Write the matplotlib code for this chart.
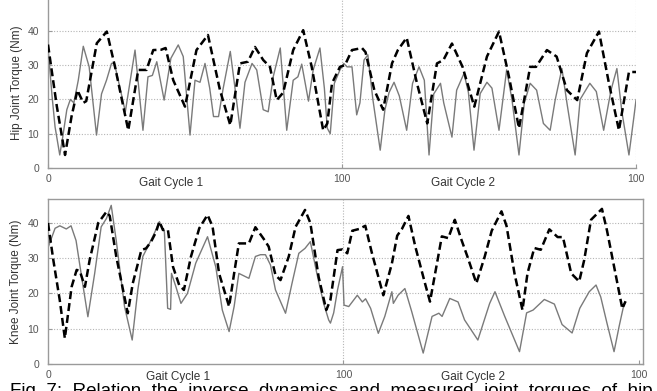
import matplotlib
matplotlib.use("Agg")
import matplotlib.pyplot as plt
from matplotlib.transforms import blended_transform_factory

# ---------------- data ----------------
hip_model_x = [0, 3, 5.8, 8, 10, 12, 13, 16.6, 20, 22.8, 27.3, 30.7, 33.5, 35.8, 38.5, 40, 42.6, 46.6,
               50.5, 54.4, 58.5, 62, 65.3, 68, 70.4, 73.2, 75.5, 77.8, 80, 83.4, 86.8, 89.7, 93.6, 95,
               96.6, 99.3, 101, 103.4, 106.8, 108, 111, 114, 117, 119, 122, 125.5, 129, 132.3, 134.5,
               137.4, 141, 145, 149.3, 153.4, 156.8, 160.2, 164, 166, 169.7, 173, 176.5, 180, 183.3,
               187.4, 190.8, 194.2, 197.6, 200]
hip_model_y = [36, 18, 3.8, 15, 22.7, 19, 19.5, 36.4, 39.8, 29.5, 11, 28.6, 28.6, 34.4, 34.5, 35, 25.6, 17.9,
               34.4, 38.8, 22.7, 12.5, 30.5, 31, 35.3, 31.5, 29.5, 19.8, 22, 34.4, 40.2, 29.5, 11, 13,
               24.7, 29.5, 30, 34.4, 35, 33.8, 22.7, 17, 30.5, 34.4, 38, 24.7, 13, 30.5, 31.5,
               36.3, 29.5, 17.9, 32.5, 39.8, 26.6, 11.6, 29.5, 29.5, 34.4, 32.5, 22.7, 19.8, 33.5,
               39.8, 24.7, 11, 28, 28]

hip_meas_x = [0, 1.4, 2.4, 4, 5, 6.4, 7.6, 8.8, 10.3, 12, 14, 16.5, 18.2, 19.9, 21.6, 22.6, 24.5, 26.3,
              29.6, 32.3, 34, 35.5, 37, 39.5, 41.8, 44.3, 46, 48.3, 50, 51.7, 53.4, 55, 56.3, 58, 59.6,
              62, 63.8, 65.3, 67, 69.4, 71, 73.2, 74.9, 76.6, 79, 81.2, 83.4, 85, 86.3, 88.6, 90.2,
              92.5, 94, 95, 96, 97.4, 99.3, 100.6, 101.7, 103.4, 105, 106.1, 107.5, 108.8, 110.5, 113,
              114.6, 116, 117.7, 119.5, 122, 124, 126.2, 128, 129.6, 131.2, 133.5, 134.6, 137.4, 139,
              141.5, 143, 144.9, 147, 149.3, 151, 153.4, 156, 157.8, 160.2, 162, 164, 166.2, 168.5,
              170.8, 172.5, 174.8, 176.5, 179.3, 181, 184.3, 186.5, 189, 191.5, 193.5, 195.2, 197.6,
              199.3, 200]
hip_meas_y = [35, 20.8, 12, 3.8, 9, 17, 20, 19, 25.6, 35.5, 29.5, 9.6, 21.6, 25.6, 30.5, 30.5, 23.3, 16.4,
              34.4, 11, 26.6, 27, 31, 19.8, 32, 35.9, 32.5, 9.6, 25.6, 25, 30.5, 23.3, 15, 15, 23.3,
              34, 22, 11.6, 25, 30.5, 28.6, 17, 16.4, 26.6, 35, 11, 25.6, 26.6, 30.3, 19.5, 28.6,
              35, 23.3, 11.6, 10, 24.7, 28.6, 30.5, 29.5, 29.5, 15.5, 19, 31.5, 33, 20, 5.2,
              17, 22, 25, 21, 11, 24.7, 29.5, 25.6, 3.8, 21.6, 24.7, 19, 9, 22.7,
              27.6, 22, 5.2, 21.7, 25, 23.3, 11, 28.6, 20, 3.8, 19, 24.7, 22.7, 13,
              11, 19.8, 29, 19, 3.8, 20, 24.7, 22.3, 11, 22.7, 29, 16.4, 3.8,
              15, 19.8]

knee_model_x = [0, 1.8, 4, 5.7, 8, 9.7, 10.8, 12.5, 14.1, 17, 19.8, 20.9, 23.1, 27, 28.7, 31.6, 33.2, 34.9,
                36.6, 37.7, 38.9, 40, 40.6, 42.3, 44.4, 46, 48.4, 51.2, 54, 55.7, 57.9, 61.3, 63, 64.6,
                66.8, 68, 70.2, 73, 74.7, 77, 78.7, 81.5, 83.8, 87, 88.8, 91.6, 94.2, 95.6, 98, 99.7,
                101.3, 103, 105.3, 107.4, 109.6, 113.5, 116.4, 118.2, 119.8, 122, 124.3, 127.6, 129.3,
                132, 133.3, 135.5, 137.7, 140, 142, 145, 147.8, 150.2, 153.5, 155.2, 157.9, 160.6, 162.3,
                164.6, 166.8, 169.7, 172.5, 174.3, 177.1, 179.8, 181.5, 183.8, 187.5, 189.2, 192.3, 194.4,
                195.5]
knee_model_y = [40, 29.5, 18, 7.3, 21.9, 26.7, 26.3, 21.9, 29.5, 40, 43.2, 42, 30.5, 14.4, 22.9, 32.3, 32.8, 34.7,
                37.5, 40.4, 38, 38.2, 38, 27.6, 22.4, 21, 30.5, 38.5, 42.3, 39, 25.7, 16.3, 25.7, 34.2,
                34.2, 34.2, 38.8, 35.5, 33.3, 25.2, 23.8, 30.5, 38.9, 43.7, 40, 24.7, 15.3, 18.2, 32.3, 32.5,
                31.4, 37.8, 38.3, 39.2, 31.6, 19.5, 28.5, 36.4, 38.3, 42, 33.4, 22.9, 17.7,
                30.1, 36.2, 35.7, 40.9, 35.1, 30.4, 22.9, 30.4, 37.8, 43.3, 39.2, 25.7, 15.3, 25.7,
                32.9, 32.4, 38.2, 36, 36, 25.7, 23.4, 29.5, 40.9, 44, 37.9, 24.7, 15.7,
                17.8]

knee_meas_x = [0, 2.4, 4, 6.2, 7.8, 9.5, 11.2, 13.5, 15.8, 18, 19.8, 21.4, 23.1, 25.9, 28.5, 30.4, 32.1,
               33.8, 36, 37.7, 39.4, 40, 40.5, 41.5, 41.8, 43.3, 45, 47.2, 50, 54, 56.8, 59, 61.3, 63,
               64.6, 66.3, 68, 70.2, 71.9, 73.6, 75.3, 77, 80.4, 82.6, 84.9, 87, 88.8, 91, 93.3, 95,
               95.6, 96.7, 98, 99.7, 100.2, 101.8, 104.7, 106.4, 107.5, 109.2, 111.8, 114, 116.4, 116.9,
               118.5, 120.8, 123.1, 127, 130, 132.3, 133.4, 136, 138.8, 141, 145.5, 149.5, 151.3, 154.6,
               159.6, 162, 164.2, 168, 171.4, 174, 177.4, 180, 183.2, 185.5, 187.1, 189.2, 191.6, 193.3,
               195]
knee_meas_y = [33, 38.5, 39.2, 38.3, 39.2, 35, 25.7, 13.4, 25.7, 38.9, 41.3, 45, 35, 16.3, 6.8, 21, 30.5,
               33.3, 37.1, 40.4, 37.5, 25.7, 15.8, 15.5, 25.7, 21.9, 17.2, 20, 28.6, 36.1, 27.5, 15.3, 9.2, 16.3,
               25.7, 25, 24.3, 30.5, 31, 31, 28.1, 21, 14.4, 22.9, 31.4, 32.8, 34.7, 25.7, 17.2, 12.5,
               11.6, 14.5, 21, 27.6, 16.7, 16.3, 19.5, 17.6, 18.5, 15.8, 8.7, 13.5, 20.5, 17.2,
               19.5, 21.4, 14.9, 3.1, 13.5, 14.4, 13.5, 18.6, 17.6, 12.5, 6.8, 17.2, 20.5, 13.5,
               3.5, 14.5, 15.3, 18.3, 17, 11.2, 8.8, 15.8, 20.5, 22.4, 19, 11.6, 3.5, 10.6,
               17.1]

x_ticks = [0, 100, 200]
x_tick_labels = ["0", "100", "100"]
y_ticks = [0, 10, 20, 30, 40]
cycle_labels = ["Gait Cycle 1", "Gait Cycle 2"]
hip_ylabel = "Hip Joint Torque (Nm)"
knee_ylabel = "Knee Joint Torque (Nm)"
caption = "Fig. 7:  Relation  the  inverse  dynamics  and  measured  joint  torques  of  hip"

# ---------------- figure ----------------
plt.rcParams['font.family'] = ['Liberation Sans', 'DejaVu Sans']
W, H = 657, 391
fig = plt.figure(figsize=(W / 100, H / 100), dpi=100)

spine_c = "#9a9a9a"
grid_c = "#b5b5b5"
txt_c = "#333333"
tick_c = "#555555"
gray_line = "#7a7a7a"


def style_axes(ax, ylim, xlim, full_box):
    ax.set_xlim(*xlim)
    ax.set_ylim(*ylim)
    ax.set_xticks(x_ticks)
    ax.set_xticklabels(x_tick_labels)
    ax.set_yticks(y_ticks)
    ax.tick_params(axis="both", direction="in", length=3, color=spine_c,
                   labelsize=7.5, labelcolor=tick_c)
    ax.tick_params(axis="y", pad=6.5)
    ax.tick_params(axis="x", pad=4)
    for s in ax.spines.values():
        s.set_color(spine_c)
        s.set_linewidth(1.0)
    if not full_box:
        ax.spines["top"].set_visible(False)
        ax.spines["right"].set_visible(False)
    else:
        ax.tick_params(axis="y", right=True)
    for yv in y_ticks[1:]:
        ax.axhline(yv, color=grid_c, lw=0.8, ls=(0, (1, 1.5)), zorder=0)
    ax.axvline(100, color=grid_c, lw=0.8, ls=(0, (1, 1.5)), zorder=0)


# top: hip
ax1 = fig.add_axes([48 / W, 1 - 168 / H, (636 - 48) / W, 168 / H])
style_axes(ax1, (0, 49), (0, 200), full_box=False)
ax1.axvline(200, color=grid_c, lw=0.8, ls=(0, (1, 1.5)), zorder=0)
ax1.plot(hip_meas_x, hip_meas_y, color=gray_line, lw=1.0, zorder=2)
ax1.plot(hip_model_x, hip_model_y, color="black", lw=1.8, ls=(0, (3.2, 1.6)), zorder=3)
ax1.set_ylabel(hip_ylabel, fontsize=8.5, color=txt_c)
ax1.yaxis.set_label_coords(-0.043, 0.51)

# bottom: knee
ax2 = fig.add_axes([48 / W, 1 - 364 / H, (643 - 48) / W, (364 - 199) / H])
style_axes(ax2, (0, 46.8), (0, 201.4), full_box=True)
ax2.plot(knee_meas_x, knee_meas_y, color=gray_line, lw=1.0, zorder=2)
ax2.plot(knee_model_x, knee_model_y, color="black", lw=1.8, ls=(0, (3.2, 1.6)), zorder=3)
ax2.set_ylabel(knee_ylabel, fontsize=8.5, color=txt_c)
ax2.yaxis.set_label_coords(-0.043, 0.5)

# gait cycle labels
for ax, pos, ypx in ((ax1, (42, 141), 183), (ax2, (44, 144), 377)):
    tr = blended_transform_factory(ax.transData, fig.transFigure)
    for lab, xp in zip(cycle_labels, pos):
        ax.text(xp, 1 - ypx / H, lab, transform=tr, ha="center", va="center",
                fontsize=8.5, color=txt_c)

# caption (only its upper part is visible in the reference image)
fig.text(10 / W, 1 - 383 / H, caption, ha="left", va="top", fontsize=13.5, color="black")

fig.savefig("out.png", dpi=100)
